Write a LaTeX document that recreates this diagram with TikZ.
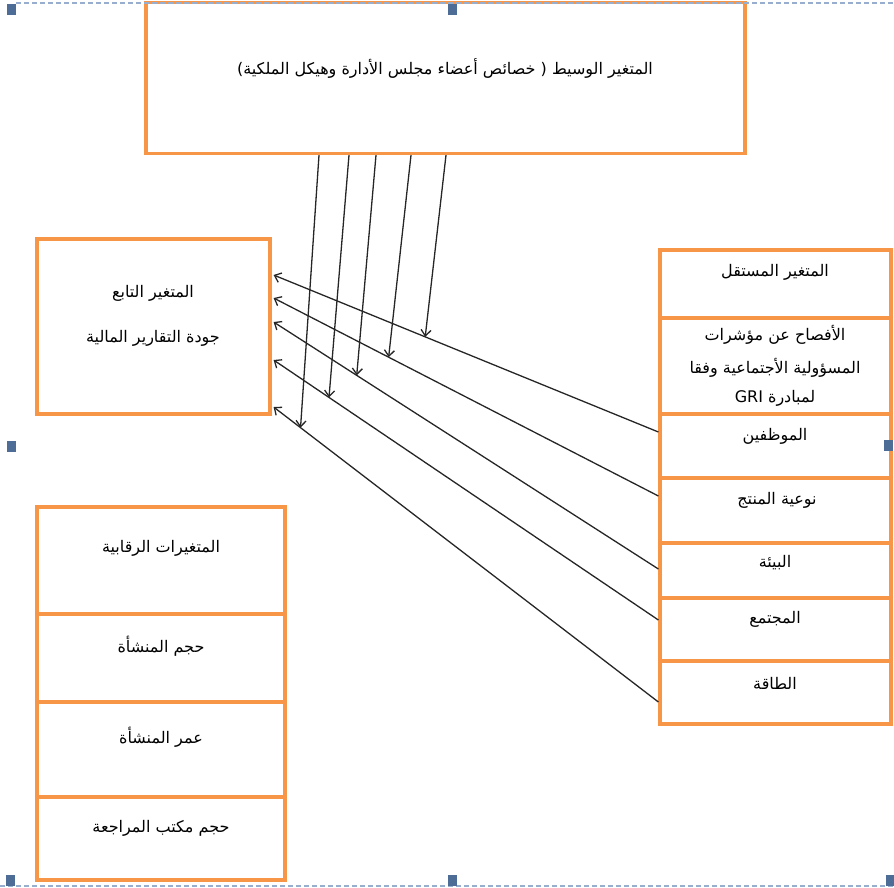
\documentclass[tikz,border=0pt]{standalone}
\usepackage{fontspec}
\usetikzlibrary{arrows.meta}
\newfontfamily\arabicfont[Script=Arabic]{DejaVu Sans}
\TeXXeTstate=1
\definecolor{boxorange}{HTML}{F79646}
\definecolor{framegray}{HTML}{98AECF}
\definecolor{handleblue}{HTML}{4E6D96}
\newcommand{\ar}[1]{\arabicfont\beginR #1\endR}
\tikzset{
  cell/.style={draw=boxorange, line width=3.2pt, rectangle, inner sep=0pt},
  lbl/.style={font=\arabicfont\fontsize{16}{18}\selectfont, inner sep=0pt, align=center, text=black},
  arr/.style={draw=black!85, line width=1.3pt, -{Straight Barb[length=6pt,width=10pt]}},
  handle/.style={fill=handleblue},
}
\begin{document}
\begin{tikzpicture}[x=1pt,y=-1pt]
\useasboundingbox (0,0) rectangle (894,887);
% boxes
\node[cell, minimum width=599pt, minimum height=151pt] (med) at (445.5,78) {};
\node[cell, minimum width=233pt, minimum height=175pt] (dep) at (153.5,326.5) {};
% right stack
\node[cell, minimum width=231pt, minimum height=68pt] (indep) at (775.5,284) {};
\node[cell, minimum width=231pt, minimum height=96pt] (gri) at (775.5,366) {};
\node[cell, minimum width=231pt, minimum height=64pt] (emp) at (775.5,446) {};
\node[cell, minimum width=231pt, minimum height=65pt] (prod) at (775.5,510.5) {};
\node[cell, minimum width=231pt, minimum height=55pt] (env) at (775.5,570.5) {};
\node[cell, minimum width=231pt, minimum height=63pt] (soc) at (775.5,629.5) {};
\node[cell, minimum width=231pt, minimum height=63pt] (nrg) at (775.5,692.5) {};
% left bottom stack
\node[cell, minimum width=248pt, minimum height=107pt] (ctrl) at (161,560.5) {};
\node[cell, minimum width=248pt, minimum height=88pt] (fsize) at (161,658) {};
\node[cell, minimum width=248pt, minimum height=95pt] (fage) at (161,749.5) {};
\node[cell, minimum width=248pt, minimum height=83pt] (audit) at (161,838.5) {};
% texts
\node[lbl] (tmed) at (445,68) {\ar{المتغير الوسيط ( خصائص أعضاء مجلس الأدارة وهيكل الملكية)}};
\node[lbl] (tdep1) at (153,293) {\ar{المتغير التابع}};
\node[lbl] (tdep2) at (153,338) {\ar{جودة التقارير المالية}};
\node[lbl] (tindep) at (775,272) {\ar{المتغير المستقل}};
\node[lbl] (tgri1) at (775,335) {\ar{الأفصاح عن مؤشرات}};
\node[lbl] (tgri2) at (775,368) {\ar{المسؤولية الأجتماعية وفقا}};
\node[lbl] (tgri3) at (775,398) {\ar{لمبادرة \beginL GRI\endL}};
\node[lbl] (temp) at (775,436) {\ar{الموظفين}};
\node[lbl] (tprod) at (777,500) {\ar{نوعية المنتج}};
\node[lbl] (tenv) at (775,563) {\ar{البيئة}};
\node[lbl] (tsoc) at (775,619) {\ar{المجتمع}};
\node[lbl] (tnrg) at (775,683) {\ar{الطاقة}};
\node[lbl] (tctrl) at (161,548) {\ar{المتغيرات الرقابية}};
\node[lbl] (tsize) at (161,646) {\ar{حجم المنشأة}};
\node[lbl] (tage) at (161,737) {\ar{عمر المنشأة}};
\node[lbl] (taudit) at (161,828) {\ar{حجم مكتب المراجعة}};
% diagonal arrows
\draw[arr] ([yshift=14pt]emp.west) -- coordinate[pos=0.606] (p1) ([xshift=2pt,yshift=51.5pt]dep.east);
\draw[arr] ([yshift=14.5pt]prod.west) -- coordinate[pos=0.701] (p2) ([xshift=2pt,yshift=28.5pt]dep.east);
\draw[arr] ([yshift=1.5pt]env.west) -- coordinate[pos=0.784] (p3) ([xshift=2pt,yshift=4.5pt]dep.east);
\draw[arr] ([yshift=9.5pt]soc.west) -- coordinate[pos=0.856] (p4) ([xshift=2pt,yshift=-33.5pt]dep.east);
\draw[arr] ([yshift=-9.5pt]nrg.west) -- coordinate[pos=0.930] (p5) ([xshift=2pt,yshift=-80.5pt]dep.east);
% vertical arrows
\draw[arr] ([xshift=0.5pt]med.south) -- (p1);
\draw[arr] ([xshift=-34.5pt]med.south) -- (p2);
\draw[arr] ([xshift=-69.5pt]med.south) -- (p3);
\draw[arr] ([xshift=-96.5pt]med.south) -- (p4);
\draw[arr] ([xshift=-126.5pt]med.south) -- (p5);
% selection frame
\draw[framegray, line width=1.4pt, dash pattern=on 5pt off 3pt] (16,3) -- (894,3);
\draw[framegray, line width=1.4pt, dash pattern=on 5pt off 3pt] (0,886) -- (894,886);
\foreach \hx/\hy in {11.5/9, 452/9, 888/445, 11/446, 10/880, 452/880, 890/880}
  \fill[handle] (\hx-4.5,\hy-5.5) rectangle (\hx+4.5,\hy+5.5);
\end{tikzpicture}
\end{document}
